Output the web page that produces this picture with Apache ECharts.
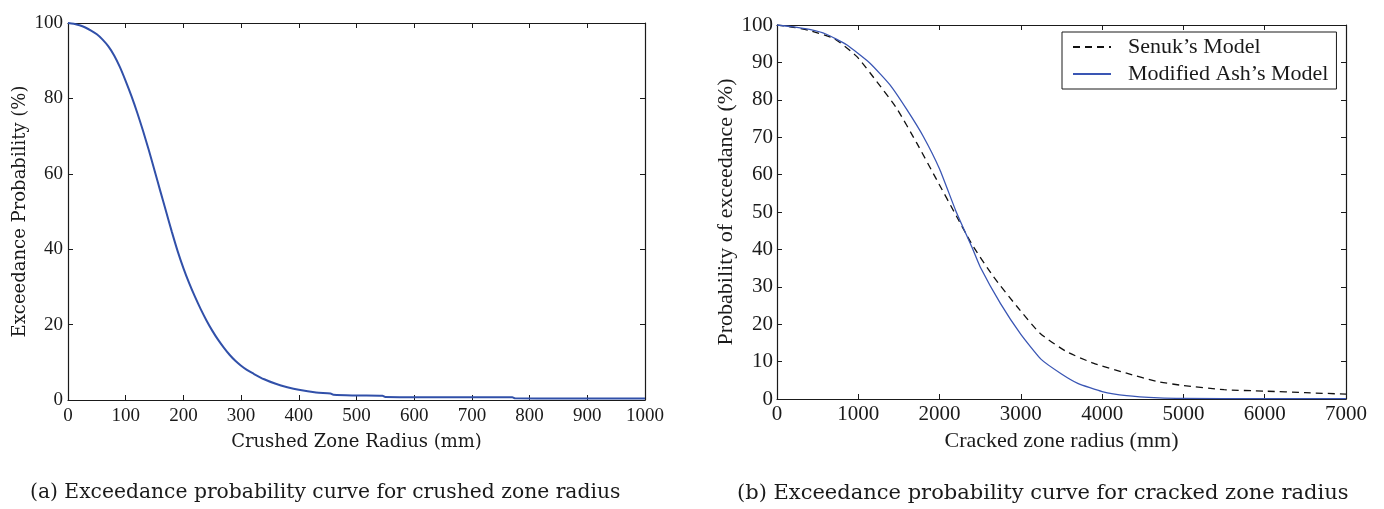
<!DOCTYPE html>
<html>
<head>
<meta charset="utf-8">
<script src="https://cdn.jsdelivr.net/npm/echarts@6/dist/echarts.min.js"></script>
<style>
html,body{margin:0;padding:0;background:#fff;}
#c{width:1384px;height:509px;}
</style>
</head>
<body>
<div id="c"></div>
<script>
// ---- (a) crushed zone radius ----
const crushedX = [0,10,20,30,40,50,60,70,80,90,100,110,120,130,140,150,160,170,180,190,200,210,220,230,240,250,260,270,280,290,300,310,320,340,360,380,400,430,455,460,500,545,550,600,700,770,775,850,1000];
const crushedY = [100,99.8,99.4,98.8,98.0,97.0,95.6,93.8,91.4,88.3,84.6,80.6,76.2,71.4,66.3,60.9,55.4,50.0,44.6,39.5,35.0,31.0,27.4,24.1,21.1,18.4,16.0,13.9,12.0,10.4,9.1,8.0,7.1,5.5,4.3,3.4,2.7,2.0,1.7,1.4,1.2,1.1,0.8,0.75,0.7,0.7,0.45,0.42,0.4];
const crushedXTicks = [0,100,200,300,400,500,600,700,800,900,1000];
const crushedYTicks = [0,20,40,60,80,100];

// ---- (b) cracked zone radius ----
const senukX = [0,200,400,700,980,1226,1470,1720,1965,2210,2400,2660,2950,3235,3560,3890,4300,4670,5000,5500,6000,6500,7000];
const senukY = [100,99.4,98.5,96.4,91.6,84.9,77.8,68.4,58.6,48.8,41.3,32.8,24.8,17.6,12.7,9.6,6.9,4.7,3.6,2.5,2.1,1.7,1.3];
const ashX = [0,200,400,600,857,1144,1390,1600,1800,2000,2200,2400,2500,2750,3000,3250,3500,3700,4000,4300,4700,5000,6000,7000];
const ashY = [100,99.5,98.8,97.6,94.7,89.8,84,77.3,70.2,61.5,50.3,40.5,35.3,25.5,17.3,10.6,6.7,4.2,2.0,0.9,0.3,0.15,0.1,0.1];
const crackedXTicks = [0,1000,2000,3000,4000,5000,6000,7000];
const crackedYTicks = [0,10,20,30,40,50,60,70,80,90,100];

const zip = (xs, ys) => xs.map((x, i) => [x, ys[i]]);

const serifA = 'DejaVu Serif';
const numA = 'Liberation Serif';
const serifB = 'Liberation Serif';
const ink = '#1a1a1a';
const plain = v => String(v);

function axis(opts) {
  return Object.assign({
    type: 'value',
    axisLine: { show: true, onZero: false, lineStyle: { color: ink, width: 1.2 } },
    axisTick: { show: true, inside: true, length: 5, lineStyle: { color: ink, width: 1 } },
    splitLine: { show: false },
    axisLabel: { show: false }
  }, opts);
}

const chart = echarts.init(document.getElementById('c'), null, { renderer: 'canvas' });
chart.setOption({
  animation: false,
  backgroundColor: '#fff',
  grid: [
    { left: 68, top: 23, width: 577, height: 377, outerBoundsMode: 'none', containLabel: false },
    { left: 777, top: 25, width: 569, height: 374, outerBoundsMode: 'none', containLabel: false }
  ],
  xAxis: [
    axis({ gridIndex: 0, position: 'bottom', min: crushedXTicks[0], max: crushedXTicks[crushedXTicks.length - 1], interval: 100,
      axisLabel: { show: true, margin: 7, color: ink, fontFamily: numA, fontSize: 19, formatter: plain },
      name: 'Crushed Zone Radius (mm)', nameLocation: 'middle', nameGap: 33,
      nameTextStyle: { fontFamily: serifA, fontSize: 18, color: ink } }),
    axis({ gridIndex: 0, position: 'top', min: 0, max: 1000, interval: 100 }),
    axis({ gridIndex: 1, position: 'bottom', min: crackedXTicks[0], max: crackedXTicks[crackedXTicks.length - 1], interval: 1000,
      axisLabel: { show: true, margin: 5, color: ink, fontFamily: numA, fontSize: 21, formatter: plain },
      name: 'Cracked zone radius (mm)', nameLocation: 'middle', nameGap: 30,
      nameTextStyle: { fontFamily: serifB, fontSize: 22, color: ink } }),
    axis({ gridIndex: 1, position: 'top', min: 0, max: 7000, interval: 1000 })
  ],
  yAxis: [
    axis({ gridIndex: 0, position: 'left', min: crushedYTicks[0], max: crushedYTicks[crushedYTicks.length - 1], interval: 20,
      axisLabel: { show: true, margin: 5, color: ink, fontFamily: numA, fontSize: 19, formatter: plain },
      name: 'Exceedance Probability (%)', nameLocation: 'middle', nameGap: 39,
      nameTextStyle: { fontFamily: serifA, fontSize: 18, color: ink } }),
    axis({ gridIndex: 0, position: 'right', min: 0, max: 100, interval: 20 }),
    axis({ gridIndex: 1, position: 'left', min: crackedYTicks[0], max: crackedYTicks[crackedYTicks.length - 1], interval: 10,
      axisLabel: { show: true, margin: 4, color: ink, fontFamily: numA, fontSize: 21, formatter: plain },
      name: 'Probability of exceedance (%)', nameLocation: 'middle', nameGap: 40,
      nameTextStyle: { fontFamily: serifB, fontSize: 22, color: ink } }),
    axis({ gridIndex: 1, position: 'right', min: 0, max: 100, interval: 10 })
  ],
  legend: {
    orient: 'vertical', left: 1062, top: 32,
    data: ['Senuk\u2019s Model', 'Modified Ash\u2019s Model'],
    backgroundColor: '#fff', borderColor: ink, borderWidth: 1,
    padding: [3, 8, 3, 10], itemGap: 3, itemWidth: 38, itemHeight: 14,
    itemStyle: { opacity: 0, borderWidth: 0 },
    textStyle: { fontFamily: serifB, fontSize: 22, color: ink, lineHeight: 24, padding: [0, 0, 0, 12] }
  },
  series: [
    { name: 'crushed', type: 'line', xAxisIndex: 0, yAxisIndex: 0, data: zip(crushedX, crushedY),
      showSymbol: false, symbol: 'none', smooth: 0.3, lineStyle: { color: '#3150a9', width: 2 } },
    { name: 'Senuk\u2019s Model', type: 'line', xAxisIndex: 2, yAxisIndex: 2, data: zip(senukX, senukY),
      showSymbol: false, symbol: 'none', smooth: 0.2, itemStyle: { color: '#111' },
      lineStyle: { color: '#111', width: 1.3, type: [7, 5] } },
    { name: 'Modified Ash\u2019s Model', type: 'line', xAxisIndex: 2, yAxisIndex: 2, data: zip(ashX, ashY),
      showSymbol: false, symbol: 'none', smooth: 0.15, itemStyle: { color: '#3a56b4' },
      lineStyle: { color: '#3a56b4', width: 1.3 } }
  ],
  graphic: [
    { type: 'text', left: 30, top: 483, style: { text: '(a) Exceedance probability curve for crushed zone radius', fontFamily: serifA, fontSize: 20.3, fill: ink } },
    { type: 'text', left: 737, top: 483, style: { text: '(b) Exceedance probability curve for cracked zone radius', fontFamily: serifA, fontSize: 21, fill: ink } }
  ]
});
</script>
</body>
</html>
